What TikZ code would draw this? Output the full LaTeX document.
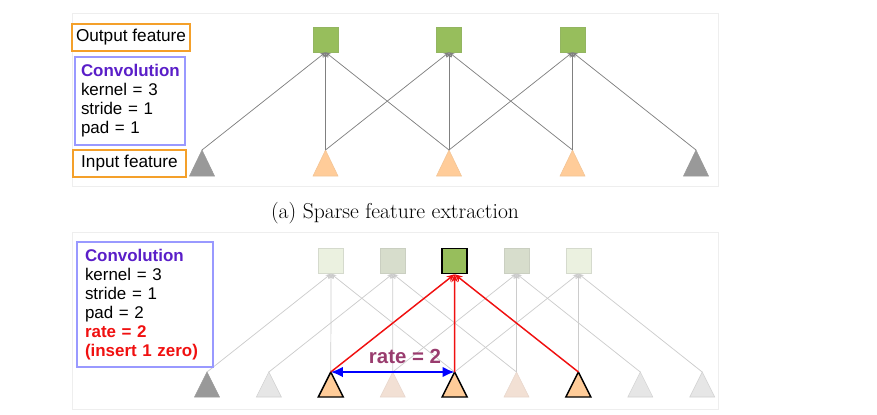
\documentclass[tikz,border=0pt]{standalone}
\usepackage{fontspec}
\newfontfamily\arial{Liberation Sans}
\usetikzlibrary{arrows.meta}
\definecolor{frame}{HTML}{EEEEEE}
\definecolor{orangebox}{HTML}{F4A02A}
\definecolor{convblue}{HTML}{9999FF}
\definecolor{convtitle}{HTML}{5A1EC8}
\definecolor{sqgreen}{HTML}{97BE5C}
\definecolor{sqpale}{HTML}{EBF1E0}
\definecolor{sqmid}{HTML}{D7DDCC}
\definecolor{trigray}{HTML}{999999}
\definecolor{trilight}{HTML}{E6E6E6}
\definecolor{triorange}{HTML}{FFCC99}
\definecolor{tripale}{HTML}{F2E0D4}
\definecolor{linegray}{HTML}{808080}
\definecolor{lightline}{HTML}{CCCCCC}
\definecolor{ratecol}{HTML}{993C6E}
\definecolor{redline}{HTML}{F01010}
\begin{document}
\begin{tikzpicture}[x=0.75pt,y=-0.75pt,
  panel/.style={draw=frame, line width=0.5pt},
  labelbox/.style={draw=orangebox, line width=1.6pt, inner sep=0pt, font=\arial\fontsize{12.9}{14.25}\selectfont},
  convbox/.style={draw=convblue, line width=1.6pt, inner sep=0pt, align=left, font=\arial\fontsize{12.7}{14.25}\selectfont},
  sqnode/.style={rectangle, minimum size=18.75pt, inner sep=0pt},
  conn/.style={draw=linegray, line width=0.55pt, -{Stealth[length=4pt,width=3.5pt]}},
  lconn/.style={draw=lightline, line width=0.55pt, -{Stealth[length=4pt,width=3.5pt,fill=lightline!80!black]}},
  redconn/.style={draw=redline, line width=1.1pt, -{Stealth[length=6pt,width=5pt]}},
  tri/.style={line width=0.4pt}
]
\useasboundingbox (0,0) rectangle (877,414);
% panels
\draw[panel] (72,13) rectangle (718,186);
\draw[panel] (72,232) rectangle (718,409);

% ---------- top panel ----------
\foreach \i/\x in {0/325.5,1/449,2/572.5}
  \node[sqnode, fill=sqgreen, draw=sqgreen!85!gray] (s\i) at (\x,39.5) {};
\foreach \i/\x/\f/\d in {0/202/trigray/trigray,1/325.5/triorange/triorange!90!gray,2/449/triorange/triorange!90!gray,3/572.5/triorange/triorange!90!gray,4/696/trigray/trigray}{
  \coordinate (t\i) at (\x,150);
  \filldraw[tri, fill=\f, draw=\d] ({\x-12.5},176) -- (t\i) -- ({\x+12.5},176) -- cycle;
}
\foreach \s/\a/\b/\c in {0/0/1/2,1/1/2/3,2/2/3/4}{
  \draw[conn] (t\a) -- (s\s.south);
  \draw[conn] (t\b) -- (s\s.south);
  \draw[conn] (t\c) -- (s\s.south);
}
\node[labelbox, minimum width=88.5pt, minimum height=20.25pt] (outlab) at (131,37.5) {Output feature};
\node[labelbox, minimum width=84.75pt, minimum height=20.25pt] (inlab) at (129.5,163.5) {Input feature};
\node[convbox, minimum width=82.5pt, minimum height=66pt, text width=73.5pt] (conv1) at (130,101)
  {\textcolor{convtitle}{\bfseries Convolution}\\kernel = 3\\stride = 1\\pad = 1};

% caption
\node[font=\fontsize{16.2}{18}\selectfont] (cap) at (395,213) {(a) Sparse feature extraction};

% ---------- bottom panel ----------
\foreach \i/\x/\f/\d in {0/331/sqpale/sqpale!80!gray,1/392.7/sqmid/sqmid!85!gray,3/516.5/sqmid/sqmid!85!gray,4/578.4/sqpale/sqpale!80!gray}
  \node[sqnode, fill=\f, draw=\d] (b\i) at (\x,261) {};
\node[sqnode, fill=sqgreen, draw=black, line width=1.1pt] (b2) at (454.6,261) {};
\foreach \i/\f/\d/\w in {0/trigray/trigray/0.4pt,1/trilight/trilight!80!gray/0.4pt,2/triorange/black/1.1pt,3/tripale/tripale!90!gray/0.4pt,4/triorange/black/1.1pt,5/tripale/tripale!90!gray/0.4pt,6/triorange/black/1.1pt,7/trilight/trilight!80!gray/0.4pt,8/trilight/trilight!80!gray/0.4pt}{
  \pgfmathsetmacro{\xx}{207+61.9*\i}
  \coordinate (u\i) at (\xx,372);
  \filldraw[line width=\w, fill=\f, draw=\d, line join=miter] ({\xx-12.5},397) -- (u\i) -- ({\xx+12.5},397) -- cycle;
}
\foreach \s/\a/\b/\c in {0/0/2/4,1/1/3/5,3/3/5/7,4/4/6/8}{
  \draw[lconn] (u\a) -- (b\s.south);
  \draw[lconn] (u\b) -- (b\s.south);
  \draw[lconn] (u\c) -- (b\s.south);
}
\draw[redconn] (u2) -- (b2.south);
\draw[redconn] (u4) -- (b2.south);
\draw[redconn] (u6) -- (b2.south);
\draw[draw=blue, line width=1.7pt, {Latex[length=9pt,width=8pt]}-{Latex[length=9pt,width=8pt]}] (u2) -- (u4);
\node[font=\arial\bfseries\fontsize{15.3}{17}\selectfont, text=ratecol] (ratelab) at (405,356) {rate = 2};
\node[convbox, minimum width=102pt, minimum height=93.75pt, text width=90pt] (conv2) at (145,304.5)
  {\textcolor{convtitle}{\bfseries Convolution}\\kernel = 3\\stride = 1\\pad = 2\\\textcolor{redline}{\bfseries rate = 2}\\\textcolor{redline}{\bfseries (insert 1 zero)}};
\end{tikzpicture}
\end{document}
